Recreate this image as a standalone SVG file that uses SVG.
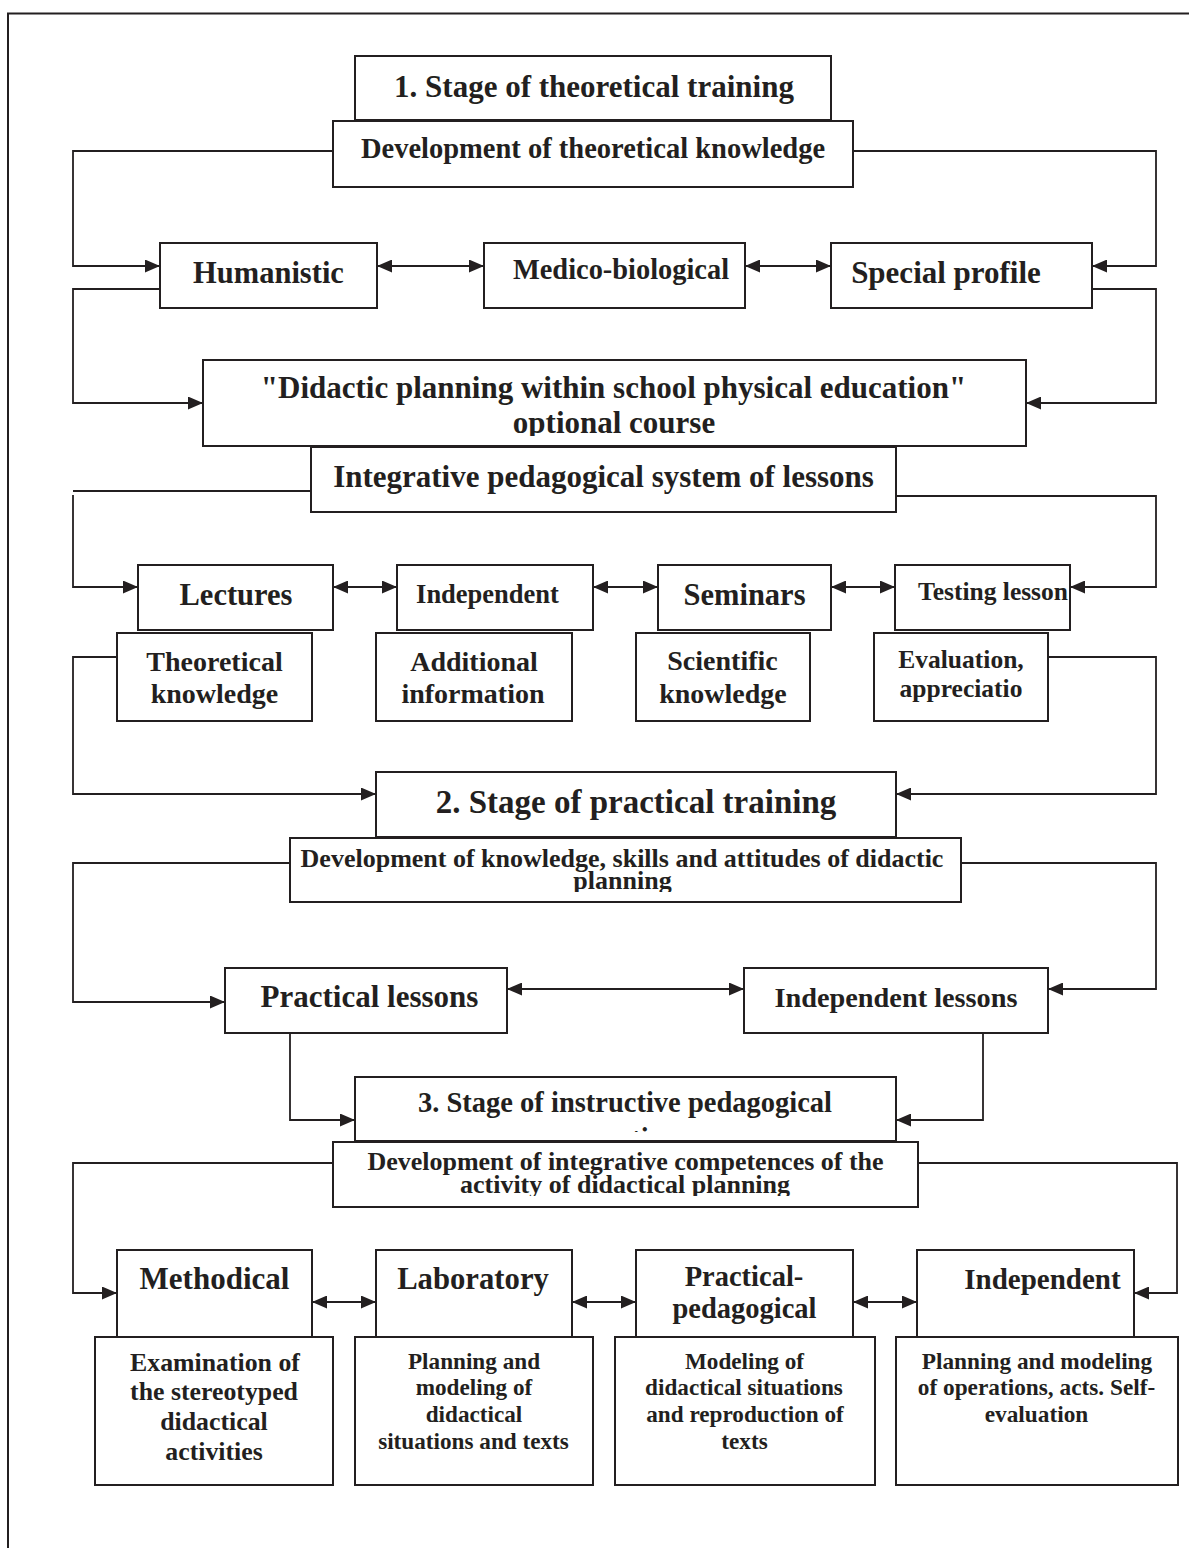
<svg xmlns="http://www.w3.org/2000/svg" width="1189" height="1548" viewBox="0 0 1189 1548">
<style>
.box{fill:#fff;stroke:#231f20;stroke-width:2}
.c{fill:none;stroke:#231f20;stroke-width:1.8}
.t{font-family:"Liberation Serif","Times New Roman",serif;font-weight:bold;fill:#231f20;text-anchor:middle}
</style>
<defs>
<marker id="ah" viewBox="0 0 15 13" refX="15" refY="6.5" markerWidth="15" markerHeight="13" markerUnits="userSpaceOnUse" orient="auto-start-reverse">
<path d="M0,0 L15,6.5 L0,13 z" fill="#231f20"/>
</marker>
<clipPath id="clipDid"><rect x="203" y="360" width="823" height="76"/></clipPath>
<clipPath id="clipDK"><rect x="290" y="838" width="671" height="54"/></clipPath>
<clipPath id="clipS3"><rect x="355" y="1077" width="541" height="55"/></clipPath>
<clipPath id="clipDI"><rect x="333" y="1142" width="585" height="54"/></clipPath>
</defs>
<rect width="1189" height="1548" fill="#fff"/>
<path d="M8,1548 V13.5 H1189" fill="none" stroke="#231f20" stroke-width="2"/>

<g id="stage1">
<rect class="box" x="355" y="56" width="476" height="64"/>
<text class="t" x="594" y="97" font-size="31">1. Stage of theoretical training</text>
</g>
<g id="dev-theory">
<rect class="box" x="333" y="121" width="520" height="66"/>
<text class="t" x="593" y="158" font-size="28.5">Development of theoretical knowledge</text>
</g>
<g id="humanistic">
<rect class="box" x="160" y="243" width="217" height="65"/>
<text class="t" x="268.5" y="283" font-size="30.5">Humanistic</text>
</g>
<g id="medico">
<rect class="box" x="484" y="243" width="261" height="65"/>
<text class="t" x="621" y="279" font-size="28.4">Medico-biological</text>
</g>
<g id="special">
<rect class="box" x="831" y="243" width="261" height="65"/>
<text class="t" x="946" y="283" font-size="31">Special profile</text>
</g>
<g id="didactic">
<rect class="box" x="203" y="360" width="823" height="86"/>
<g clip-path="url(#clipDid)">
<text class="t" x="613.5" y="398" font-size="31">"Didactic planning within school physical education"</text>
<text class="t" x="614" y="433" font-size="31">optional course</text>
</g>
</g>
<g id="integrative">
<rect class="box" x="311" y="447" width="585" height="65"/>
<text class="t" x="603.5" y="487" font-size="31">Integrative pedagogical system of lessons</text>
</g>
<g id="lectures">
<rect class="box" x="138" y="565" width="195" height="65"/>
<text class="t" x="236" y="605" font-size="30.5">Lectures</text>
</g>
<g id="independent1">
<rect class="box" x="397" y="565" width="196" height="65"/>
<text class="t" x="487.5" y="603" font-size="26.5">Independent</text>
</g>
<g id="seminars">
<rect class="box" x="658" y="565" width="173" height="65"/>
<text class="t" x="744.5" y="605" font-size="30.5">Seminars</text>
</g>
<g id="testing">
<rect class="box" x="895" y="565" width="175" height="65"/>
<text class="t" x="993" y="600" font-size="25.5">Testing lesson</text>
</g>
<g id="theoretical-knowledge">
<rect class="box" x="117" y="633" width="195" height="88"/>
<text class="t" x="214.5" y="671" font-size="28">Theoretical</text>
<text class="t" x="214.5" y="703" font-size="28">knowledge</text>
</g>
<g id="additional">
<rect class="box" x="376" y="633" width="196" height="88"/>
<text class="t" x="474" y="671" font-size="28">Additional</text>
<text class="t" x="473" y="703" font-size="28">information</text>
</g>
<g id="scientific">
<rect class="box" x="636" y="633" width="174" height="88"/>
<text class="t" x="722.5" y="670" font-size="28">Scientific</text>
<text class="t" x="723" y="703" font-size="28">knowledge</text>
</g>
<g id="evaluation">
<rect class="box" x="874" y="633" width="174" height="88"/>
<text class="t" x="961" y="668" font-size="25.5">Evaluation,</text>
<text class="t" x="961" y="697" font-size="25.5">appreciatio</text>
</g>
<g id="stage2">
<rect class="box" x="376" y="772" width="520" height="65"/>
<text class="t" x="636" y="813" font-size="33">2. Stage of practical training</text>
</g>
<g id="dev-knowledge">
<rect class="box" x="290" y="838" width="671" height="64"/>
<g clip-path="url(#clipDK)">
<text class="t" x="622" y="867" font-size="26">Development of knowledge, skills and attitudes of didactic</text>
<text class="t" x="622.5" y="889" font-size="26">planning</text>
</g>
</g>
<g id="practical-lessons">
<rect class="box" x="225" y="968" width="282" height="65"/>
<text class="t" x="369.5" y="1007" font-size="31">Practical lessons</text>
</g>
<g id="independent-lessons">
<rect class="box" x="744" y="968" width="304" height="65"/>
<text class="t" x="896" y="1007" font-size="28.3">Independent lessons</text>
</g>
<g id="stage3">
<rect class="box" x="355" y="1077" width="541" height="64"/>
<g clip-path="url(#clipS3)">
<text class="t" x="625" y="1112" font-size="28.5">3. Stage of instructive pedagogical</text>
<text class="t" x="625" y="1147.5" font-size="28.5">practice</text>
</g>
</g>
<g id="dev-integrative">
<rect class="box" x="333" y="1142" width="585" height="65"/>
<g clip-path="url(#clipDI)">
<text class="t" x="625.5" y="1170" font-size="26">Development of integrative competences of the</text>
<text class="t" x="625" y="1193" font-size="26">activity of didactical planning</text>
</g>
</g>
<g id="methodical">
<rect class="box" x="117" y="1250" width="195" height="87"/>
<text class="t" x="214.5" y="1289" font-size="31">Methodical</text>
</g>
<g id="laboratory">
<rect class="box" x="376" y="1250" width="196" height="87"/>
<text class="t" x="473" y="1289" font-size="30.7">Laboratory</text>
</g>
<g id="practical-pedagogical">
<rect class="box" x="636" y="1250" width="217" height="87"/>
<text class="t" x="744" y="1286" font-size="28.5">Practical-</text>
<text class="t" x="744.5" y="1318" font-size="28.5">pedagogical</text>
</g>
<g id="independent2">
<rect class="box" x="917" y="1250" width="217" height="87"/>
<text class="t" x="1042.5" y="1289" font-size="29">Independent</text>
</g>
<g id="examination">
<rect class="box" x="95" y="1337" width="238" height="148"/>
<text class="t" x="215" y="1371" font-size="25.8">Examination of</text>
<text class="t" x="214" y="1400" font-size="25.8">the stereotyped</text>
<text class="t" x="214" y="1430" font-size="25.8">didactical</text>
<text class="t" x="214" y="1460" font-size="25.8">activities</text>
</g>
<g id="planning-texts">
<rect class="box" x="355" y="1337" width="238" height="148"/>
<text class="t" x="474" y="1369" font-size="23.2">Planning and</text>
<text class="t" x="474" y="1395" font-size="23.2">modeling of</text>
<text class="t" x="474" y="1422" font-size="23.2">didactical</text>
<text class="t" x="473.5" y="1449" font-size="23.2">situations and texts</text>
</g>
<g id="modeling">
<rect class="box" x="615" y="1337" width="260" height="148"/>
<text class="t" x="744.5" y="1369" font-size="23.2">Modeling of</text>
<text class="t" x="744" y="1395" font-size="23.2">didactical situations</text>
<text class="t" x="745" y="1422" font-size="23.2">and reproduction of</text>
<text class="t" x="744.5" y="1449" font-size="23.2">texts</text>
</g>
<g id="planning-operations">
<rect class="box" x="896" y="1337" width="282" height="148"/>
<text class="t" x="1037" y="1369" font-size="23.3">Planning and modeling</text>
<text class="t" x="1036.5" y="1395" font-size="23.3">of operations, acts. Self-</text>
<text class="t" x="1036.5" y="1422" font-size="23.3">evaluation</text>
</g>

<g id="connectors">
<path class="c" d="M333,151 H73 V266 H160" marker-end="url(#ah)"/>
<path class="c" d="M853,151 H1156 V266 H1092" marker-end="url(#ah)"/>
<path class="c" d="M377,266 H484" marker-start="url(#ah)" marker-end="url(#ah)"/>
<path class="c" d="M745,266 H831" marker-start="url(#ah)" marker-end="url(#ah)"/>
<path class="c" d="M160,289 H73 V403 H203" marker-end="url(#ah)"/>
<path class="c" d="M1092,289 H1156 V403 H1026" marker-end="url(#ah)"/>
<path class="c" d="M311,491 H73"/>
<path class="c" d="M73,495 V587 H138" marker-end="url(#ah)"/>
<path class="c" d="M896,496 H1156 V587 H1070" marker-end="url(#ah)"/>
<path class="c" d="M333,587 H397" marker-start="url(#ah)" marker-end="url(#ah)"/>
<path class="c" d="M593,587 H658" marker-start="url(#ah)" marker-end="url(#ah)"/>
<path class="c" d="M831,587 H895" marker-start="url(#ah)" marker-end="url(#ah)"/>
<path class="c" d="M117,657 H73 V794 H376" marker-end="url(#ah)"/>
<path class="c" d="M1048,657 H1156 V794 H896" marker-end="url(#ah)"/>
<path class="c" d="M290,863 H73 V1002 H225" marker-end="url(#ah)"/>
<path class="c" d="M961,863 H1156 V989 H1048" marker-end="url(#ah)"/>
<path class="c" d="M507,989 H744" marker-start="url(#ah)" marker-end="url(#ah)"/>
<path class="c" d="M290,1033 V1120 H355" marker-end="url(#ah)"/>
<path class="c" d="M983,1033 V1120 H896" marker-end="url(#ah)"/>
<path class="c" d="M333,1163 H73 V1293 H117" marker-end="url(#ah)"/>
<path class="c" d="M918,1163 H1177 V1293 H1134" marker-end="url(#ah)"/>
<path class="c" d="M312,1302 H376" marker-start="url(#ah)" marker-end="url(#ah)"/>
<path class="c" d="M572,1302 H636" marker-start="url(#ah)" marker-end="url(#ah)"/>
<path class="c" d="M853,1302 H917" marker-start="url(#ah)" marker-end="url(#ah)"/>
</g>
</svg>
